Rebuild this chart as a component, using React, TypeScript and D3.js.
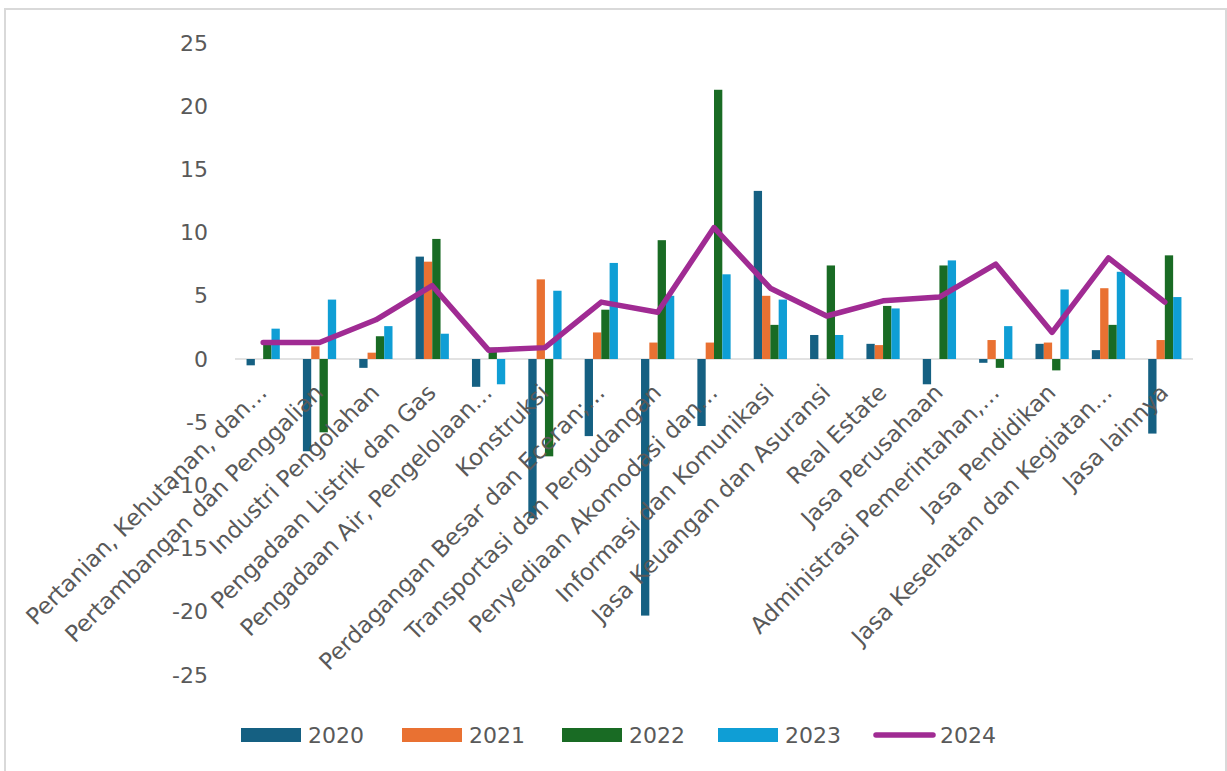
import React from "react";
import * as d3 from "d3";

const categories = [
  "Pertanian, Kehutanan, dan…",
  "Pertambangan dan Penggalian",
  "Industri Pengolahan",
  "Pengadaan Listrik dan Gas",
  "Pengadaan Air, Pengelolaan…",
  "Konstruksi",
  "Perdagangan Besar dan Eceran;…",
  "Transportasi dan Pergudangan",
  "Penyediaan Akomodasi dan…",
  "Informasi dan Komunikasi",
  "Jasa Keuangan dan Asuransi",
  "Real Estate",
  "Jasa Perusahaan",
  "Administrasi Pemerintahan,…",
  "Jasa Pendidikan",
  "Jasa Kesehatan dan Kegiatan…",
  "Jasa lainnya",
];

const barYears = ["2020", "2021", "2022", "2023"];
const lineYear = "2024";

const v2020 = [-0.5, -7.3, -0.7, 8.1, -2.2, -12.6, -6.1, -20.3, -5.3, 13.3, 1.9, 1.2, -2.0, -0.3, 1.2, 0.7, -5.9];
const v2021 = [0, 1.0, 0.5, 7.7, 0, 6.3, 2.1, 1.3, 1.3, 5.0, 0, 1.1, 0, 1.5, 1.3, 5.6, 1.5];
const v2022 = [1.4, -5.8, 1.8, 9.5, 0.9, -7.7, 3.9, 9.4, 21.3, 2.7, 7.4, 4.2, 7.4, -0.7, -0.9, 2.7, 8.2];
const v2023 = [2.4, 4.7, 2.6, 2.0, -2.0, 5.4, 7.6, 5.0, 6.7, 4.7, 1.9, 4.0, 7.8, 2.6, 5.5, 6.9, 4.9];
const v2024 = [1.3, 1.3, 3.1, 5.8, 0.7, 0.9, 4.5, 3.7, 10.4, 5.6, 3.4, 4.6, 4.9, 7.5, 2.1, 8.0, 4.5];

const yTicks = [25, 20, 15, 10, 5, 0, -5, -10, -15, -20, -25];

const barSeries = [v2020, v2021, v2022, v2023];
const colors = ["#156082", "#E97132", "#196B24", "#0F9ED5"];
const lineColor = "#A02B93";

const W = 1227;
const H = 771;
const FONT = "'DejaVu Sans', 'Liberation Sans', sans-serif";
const TEXT = "#595959";

export default function App() {
  const x = d3.scaleBand<string>().domain(categories).range([235, 1193]).padding(0);
  const step = x.bandwidth();
  const groupW = step * 0.59;
  const x1 = d3
    .scaleBand<string>()
    .domain(barYears)
    .range([(step - groupW) / 2, (step + groupW) / 2])
    .padding(0);
  const y = d3.scaleLinear().domain([-25, 25]).range([675, 43]);

  const line = d3
    .line<number>()
    .x((_, i) => (x(categories[i]) as number) + step / 2)
    .y((d) => y(d));

  const legendX = [241, 402, 562, 718, 873];
  const legendItems = [...barYears, lineYear];

  return (
    <svg
      width={W}
      height={H}
      style={{ position: "absolute", left: 0, top: 0, background: "#fff" }}
      fontFamily={FONT}
    >
      <rect x={5} y={9} width={1221} height={775} fill="#fff" stroke="#d9d9d9" strokeWidth={2} />
      {yTicks.map((t) => (
        <text
          key={t}
          x={208}
          y={y(t)}
          textAnchor="end"
          dominantBaseline="central"
          fontSize={22}
          fill={TEXT}
        >
          {t}
        </text>
      ))}
      <line x1={235} x2={1193} y1={y(0)} y2={y(0)} stroke="#d9d9d9" strokeWidth={1.5} />
      {barSeries.map((vals, si) =>
        vals.map((v, i) => {
          const bx = (x(categories[i]) as number) + (x1(barYears[si]) as number);
          return (
            <rect
              key={`${si}-${i}`}
              x={bx}
              width={x1.bandwidth()}
              y={Math.min(y(v), y(0))}
              height={Math.abs(y(v) - y(0))}
              fill={colors[si]}
            />
          );
        })
      )}
      <path
        d={line(v2024) || ""}
        fill="none"
        stroke={lineColor}
        strokeWidth={5.5}
        strokeLinejoin="round"
        strokeLinecap="round"
      />
      {categories.map((c, i) => {
        const cx = (x(c) as number) + step / 2;
        return (
          <text
            key={c}
            transform={`translate(${cx + 5},${y(0) + 35}) rotate(-45)`}
            textAnchor="end"
            fontSize={23}
            fill={TEXT}
          >
            {c}
          </text>
        );
      })}
      {legendItems.map((name, i) => (
        <g key={name}>
          {i < 4 ? (
            <rect x={legendX[i]} y={728} width={60} height={14} fill={colors[i]} />
          ) : (
            <line
              x1={legendX[i] + 3}
              x2={legendX[i] + 60}
              y1={735}
              y2={735}
              stroke={lineColor}
              strokeWidth={5.5}
              strokeLinecap="round"
            />
          )}
          <text x={legendX[i] + 67} y={735} dominantBaseline="central" fontSize={22} fill={TEXT}>
            {name}
          </text>
        </g>
      ))}
    </svg>
  );
}
